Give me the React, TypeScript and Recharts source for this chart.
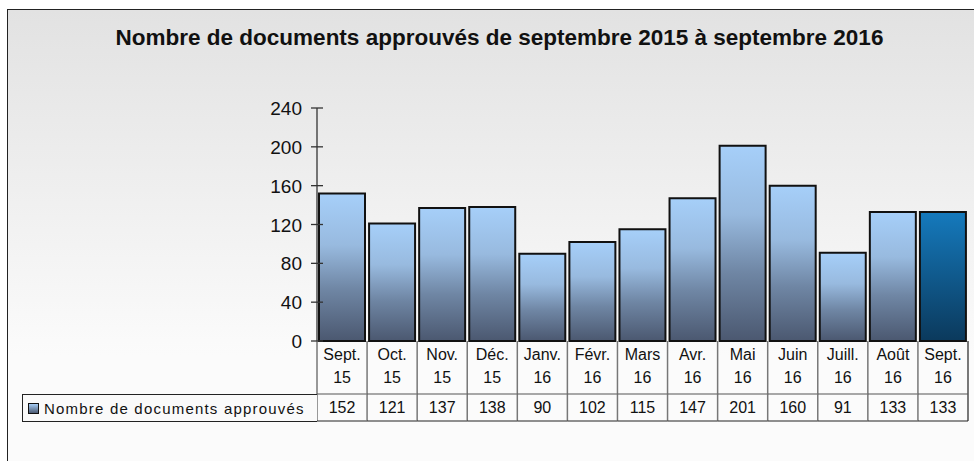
import React from 'react';
import { BarChart, Bar, XAxis, YAxis, Cell } from 'recharts';

const months = ['Sept.', 'Oct.', 'Nov.', 'Déc.', 'Janv.', 'Févr.', 'Mars', 'Avr.', 'Mai', 'Juin', 'Juill.', 'Août', 'Sept.'];
const years = ['15', '15', '15', '15', '16', '16', '16', '16', '16', '16', '16', '16', '16'];
const values = [152, 121, 137, 138, 90, 102, 115, 147, 201, 160, 91, 133, 133];
const yTicks = [0, 40, 80, 120, 160, 200, 240];
const seriesName = 'Nombre de documents approuvés';
const title = 'Nombre de documents approuvés de septembre 2015 à septembre 2016';

const data = months.map((m, i) => ({ month: m, year: years[i], value: values[i], key: i }));

const FONT = 'Arial, "Liberation Sans", sans-serif';
const PLOT_LEFT = 317;
const PLOT_RIGHT = 968;
const PLOT_BOTTOM = 341;
const CELL_W = (PLOT_RIGHT - PLOT_LEFT) / values.length;
const ROW1 = 53;
const ROW2 = 80;

function YTick(props: any) {
  const { x, y, payload } = props;
  const ax = x + 15;
  return (
    <g>
      <line x1={ax - 6} x2={ax + 6} y1={y} y2={y} stroke="#333" strokeWidth={1.3} />
      <text x={x} y={y} dy={7} textAnchor="end" fontSize={19} fill="#111" fontFamily={FONT}>
        {payload.value}
      </text>
    </g>
  );
}

function TableTick(props: any) {
  const { x, y, index } = props;
  const left = x - CELL_W / 2;
  const right = x + CELL_W / 2;
  const last = index === values.length - 1;
  return (
    <g>
      <line x1={left} x2={left} y1={y} y2={y + ROW2} stroke="#777" strokeWidth={1.5} />
      {last && <line x1={right} x2={right} y1={y} y2={y + ROW2} stroke="#222" strokeWidth={1.2} />}
      <line x1={left} x2={right} y1={y + ROW1} y2={y + ROW1} stroke="#555" strokeWidth={1.2} />
      <line x1={left} x2={right} y1={y + ROW2} y2={y + ROW2} stroke="#222" strokeWidth={1.2} />
      <text x={x} y={y + 19} textAnchor="middle" fontSize={16} fill="#111" fontFamily={FONT}>
        {months[index]}
      </text>
      <text x={x} y={y + 42} textAnchor="middle" fontSize={16} fill="#111" fontFamily={FONT}>
        {years[index]}
      </text>
      <text x={x} y={y + 72} textAnchor="middle" fontSize={16} fill="#111" fontFamily={FONT}>
        {values[index]}
      </text>
    </g>
  );
}

function TableLegend() {
  return (
    <div
      style={{
        position: 'absolute',
        left: 22,
        top: PLOT_BOTTOM + ROW1,
        width: PLOT_LEFT - 22,
        height: ROW2 - ROW1 + 1,
        boxSizing: 'border-box',
        border: '1.2px solid #222',
        borderRight: 'none',
        display: 'flex',
        alignItems: 'center',
        paddingLeft: 5,
        fontFamily: FONT,
        fontSize: 15,
        letterSpacing: 1.2,
        color: '#111',
        background: '#fafafa',
      }}
    >
      <span
        style={{
          display: 'inline-block',
          width: 9,
          height: 9,
          border: '1.5px solid #111',
          background: 'linear-gradient(#a6cdf6, #4c5a72)',
          marginRight: 5,
        }}
      />
      {seriesName}
    </div>
  );
}

export default function App() {
  return (
    <div style={{ position: 'fixed', left: 0, top: 0, width: 974, height: 461, overflow: 'hidden', background: '#fff' }}>
      <div
        style={{
          position: 'absolute',
          left: 7,
          top: 9,
          width: 1000,
          height: 500,
          border: '1.5px solid #222',
          background: 'linear-gradient(#e2e2e2 0px, #fbfbfb 345px, #fbfbfb 500px)',
        }}
      />
      <div
        style={{
          position: 'absolute',
          left: 0,
          top: 25,
          width: 999,
          textAlign: 'center',
          fontFamily: FONT,
          fontWeight: 'bold',
          fontSize: 22.5,
          color: '#111',
        }}
      >
        {title}
      </div>
      <div style={{ position: 'absolute', left: 0, top: 0 }}>
        <BarChart
          width={974}
          height={461}
          data={data}
          margin={{ top: 108, right: 974 - PLOT_RIGHT, bottom: 461 - PLOT_BOTTOM - ROW2, left: PLOT_LEFT - 60 }}
          barCategoryGap={2}
        >
          <defs>
            <linearGradient id="barGrad" x1="0" y1="0" x2="0" y2="1">
              <stop offset="0%" stopColor="#a6cff9" />
              <stop offset="35%" stopColor="#98badf" />
              <stop offset="65%" stopColor="#6f86a4" />
              <stop offset="100%" stopColor="#4b5870" />
            </linearGradient>
            <linearGradient id="lastGrad" x1="0" y1="0" x2="0" y2="1">
              <stop offset="0%" stopColor="#157abd" />
              <stop offset="100%" stopColor="#0b395c" />
            </linearGradient>
          </defs>
          <XAxis
            dataKey="key"
            axisLine={false}
            tickLine={false}
            tickSize={0}
            tickMargin={0}
            height={ROW2}
            interval={0}
            tick={<TableTick />}
          />
          <YAxis
            type="number"
            domain={[0, 240]}
            ticks={yTicks}
            width={60}
            tickLine={false}
            tickSize={6}
            tickMargin={9}
            axisLine={{ stroke: '#333', strokeWidth: 1.3 }}
            tick={<YTick />}
          />
          <Bar dataKey="value" name={seriesName} fill="url(#barGrad)" stroke="#111" strokeWidth={2} isAnimationActive={false}>
            {data.map((d, i) => (
              <Cell key={d.key} fill={i === data.length - 1 ? 'url(#lastGrad)' : 'url(#barGrad)'} />
            ))}
          </Bar>
        </BarChart>
      </div>
      <TableLegend />
    </div>
  );
}
